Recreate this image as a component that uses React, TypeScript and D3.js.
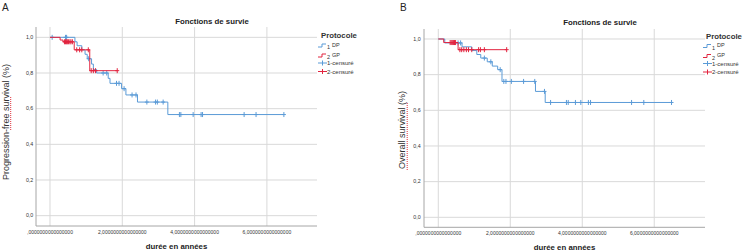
import React from "react";
import * as d3 from "d3";

// axis ticks (SPSS style labels with comma decimals)
const xTicks = [0, 2, 4, 6];
const xTickLabels = [
  ",0000000000000000",
  "2,0000000000000000",
  "4,0000000000000000",
  "6,0000000000000000",
];
const yTicks = [0, 0.2, 0.4, 0.6, 0.8, 1.0];
const yTickLabels = ["0,0", "0,2", "0,4", "0,6", "0,8", "1,0"];

// A - progression-free survival, protocole 1 (DP)
const pfsDpTimes = [0, 0.69, 0.75, 0.88, 0.97, 1.03, 1.15, 1.2, 1.29, 1.61, 1.66, 1.98, 2.1, 2.42, 3.26];
const pfsDpSurv = [1, 0.975, 0.953, 0.93, 0.905, 0.88, 0.85, 0.82, 0.8, 0.77, 0.742, 0.712, 0.677, 0.637, 0.567];
const pfsDpEnd = 6.47;
const pfsDpCensored = [0.06, 0.43, 0.46, 1.07, 1.47, 1.57, 1.84, 1.91, 2.05, 2.27, 2.38, 2.68, 2.92, 2.97, 3.13, 3.58, 3.62, 3.96, 4.18, 4.22, 5.37, 5.7, 6.47];

// A - protocole 2 (GP)
const pfsGpTimes = [0, 0.28, 0.36, 0.67, 1.1];
const pfsGpSurv = [1, 0.985, 0.975, 0.93, 0.813];
const pfsGpEnd = 1.86;
const pfsGpCensored = [0.4, 0.43, 0.46, 0.48, 0.51, 0.55, 0.58, 0.62, 0.74, 0.82, 0.88, 1.06, 1.14, 1.2, 1.26, 1.86];

// B - overall survival, protocole 1 (DP)
const osDpTimes = [0, 0.18, 0.66, 0.93, 1.07, 1.18, 1.36, 1.5, 1.65, 1.77, 2.7, 2.97];
const osDpSurv = [1, 0.978, 0.956, 0.935, 0.913, 0.893, 0.872, 0.848, 0.828, 0.762, 0.706, 0.644];
const osDpEnd = 6.48;
const osDpCensored = [0.55, 0.62, 1.28, 1.46, 1.72, 1.82, 1.88, 2.03, 2.37, 2.68, 2.95, 3.12, 3.56, 3.61, 3.81, 3.96, 4.17, 4.23, 5.37, 5.71, 6.48];

// B - protocole 2 (GP)
const osGpTimes = [0, 0.15, 0.55];
const osGpSurv = [1, 0.98, 0.94];
const osGpEnd = 1.9;
const osGpCensored = [0.33, 0.36, 0.39, 0.42, 0.45, 0.48, 0.6, 0.65, 0.71, 0.78, 0.84, 0.93, 1.12, 1.17, 1.28, 1.9];

const BLUE = "#5b9bd7";
const RED = "#e2243f";
const FONT = "'Liberation Sans', Arial, sans-serif";

const survAt = (times, surv, t) => {
  let v = surv[0];
  for (let i = 0; i < times.length; i++) if (times[i] <= t) v = surv[i];
  return v;
};

const Curve = ({ x, y, times, surv, end, censored, color }) => {
  const pts = times.map((t, i) => [t, surv[i]]);
  pts.push([end, surv[surv.length - 1]]);
  const line = d3
    .line()
    .x((d) => x(d[0]))
    .y((d) => y(d[1]))
    .curve(d3.curveStepAfter);
  return (
    <g>
      <path d={line(pts)} fill="none" stroke={color} strokeWidth={1} />
      {censored.map((t, i) => {
        const cx = x(t);
        const cy = y(survAt(times, surv, t));
        return (
          <g key={i} stroke={color} strokeWidth={1}>
            <line x1={cx} x2={cx} y1={cy - 2.5} y2={cy + 2.5} />
            <line x1={cx - 2} x2={cx + 2} y1={cy} y2={cy} />
          </g>
        );
      })}
    </g>
  );
};

const Panel = ({ letter, yLabel, frame, titleX, titleY, tickRight, series, legendX, legendY, wavy }) => {
  const { x0, x1, y0, y1, tDomain, vDomain } = frame;
  const x = d3.scaleLinear().domain(tDomain).range([x0, x1]);
  const y = d3.scaleLinear().domain(vDomain).range([y1, y0]);
  return (
    <g fontFamily={FONT}>
      <text x={frame.letterX} y={11} fontSize={10} fill="#222">{letter}</text>
      <text x={titleX} y={titleY} fontSize={7.8} fontWeight="bold" textAnchor="middle" fill="#222">
        Fonctions de survie
      </text>
      {/* grid */}
      {yTicks.map((v) => (
        <line key={"h" + v} x1={x0} x2={x1} y1={y(v)} y2={y(v)} stroke="#d9d9d9" strokeWidth={1} />
      ))}
      {xTicks.map((t) => (
        <line key={"v" + t} x1={x(t)} x2={x(t)} y1={y0} y2={y1} stroke="#d9d9d9" strokeWidth={1} />
      ))}
      {/* axes */}
      <line x1={x0} x2={x0} y1={y0} y2={y1} stroke="#a6a6a6" strokeWidth={1} />
      <line x1={x0} x2={x1} y1={y1} y2={y1} stroke="#a6a6a6" strokeWidth={1} />
      {yTicks.map((v, i) => (
        <text key={"yl" + v} x={tickRight} y={y(v) + 1.8} fontSize={5.3} textAnchor="end" fill="#333">
          {yTickLabels[i]}
        </text>
      ))}
      {xTicks.map((t, i) => (
        <text key={"xl" + t} x={x(t)} y={y1 + 7.5} fontSize={5} textAnchor="middle" fill="#333">
          {xTickLabels[i]}
        </text>
      ))}
      <text x={(x0 + x1) / 2} y={y1 + 23} fontSize={7.8} fontWeight="bold" textAnchor="middle" fill="#222">
        durée en années
      </text>
      <text
        transform={`translate(${frame.labelX},${frame.labelY}) rotate(-90)`}
        fontSize={9}
        textAnchor="middle"
        fill="#333"
      >
        {yLabel}
      </text>
      <line
        x1={frame.labelX + 2.2}
        x2={frame.labelX + 2.2}
        y1={wavy[0]}
        y2={wavy[1]}
        stroke="#e0303a"
        strokeWidth={1}
        strokeDasharray="1 1"
      />
      {series.map((s, i) => (
        <Curve key={i} x={x} y={y} {...s} />
      ))}
      {/* legend */}
      <g transform={`translate(${legendX},${legendY})`} fill="#333">
        <text x={3} y={0} fontSize={7.8} fontWeight="bold" fill="#333">Protocole</text>
        <path d="M0,9 H4 V6 H8" fill="none" stroke={BLUE} />
        <text x={9} y={11} fontSize={5.5}>1</text>
        <text x={14} y={8.5} fontSize={5.5}>DP</text>
        <path d="M0,19 H4 V16 H8" fill="none" stroke={RED} />
        <text x={9} y={21} fontSize={5.5}>2</text>
        <text x={14} y={18.5} fontSize={5.5}>GP</text>
        <g stroke={BLUE}>
          <line x1={0} x2={9} y1={25} y2={25} />
          <line x1={4.5} x2={4.5} y1={22.5} y2={27.5} />
        </g>
        <text x={9} y={27} fontSize={6}>1-censuré</text>
        <g stroke={RED}>
          <line x1={0} x2={9} y1={33.5} y2={33.5} />
          <line x1={4.5} x2={4.5} y1={31} y2={36} />
        </g>
        <text x={9} y={35.5} fontSize={6}>2-censuré</text>
      </g>
    </g>
  );
};

export default function App() {
  const frameA = {
    x0: 36, x1: 317, y0: 27, y1: 226,
    tDomain: [-0.387, 7.386], vDomain: [-0.058, 1.058],
    letterX: 2, labelX: 8.5, labelY: 122,
  };
  const frameB = {
    x0: 424, x1: 705, y0: 29, y1: 227.3,
    tDomain: [-0.397, 7.41], vDomain: [-0.056, 1.056],
    letterX: 400, labelX: 405, labelY: 130,
  };
  return (
    <svg width={749} height={251} style={{ position: "absolute", left: 0, top: 0, background: "#fff" }}>
      <rect width={749} height={251} fill="#fff" />
      <Panel
        letter="A"
        yLabel="Progression-free survival (%)"
        frame={frameA}
        titleX={212}
        titleY={24}
        tickRight={33.3}
        legendX={318}
        legendY={38}
        wavy={[97, 131]}
        series={[
          { times: pfsDpTimes, surv: pfsDpSurv, end: pfsDpEnd, censored: pfsDpCensored, color: BLUE },
          { times: pfsGpTimes, surv: pfsGpSurv, end: pfsGpEnd, censored: pfsGpCensored, color: RED },
        ]}
      />
      <Panel
        letter="B"
        yLabel="Overall survival (%)"
        frame={frameB}
        titleX={600}
        titleY={25}
        tickRight={420.7}
        legendX={703}
        legendY={38.5}
        wavy={[103, 170]}
        series={[
          { times: osDpTimes, surv: osDpSurv, end: osDpEnd, censored: osDpCensored, color: BLUE },
          { times: osGpTimes, surv: osGpSurv, end: osGpEnd, censored: osGpCensored, color: RED },
        ]}
      />
    </svg>
  );
}
